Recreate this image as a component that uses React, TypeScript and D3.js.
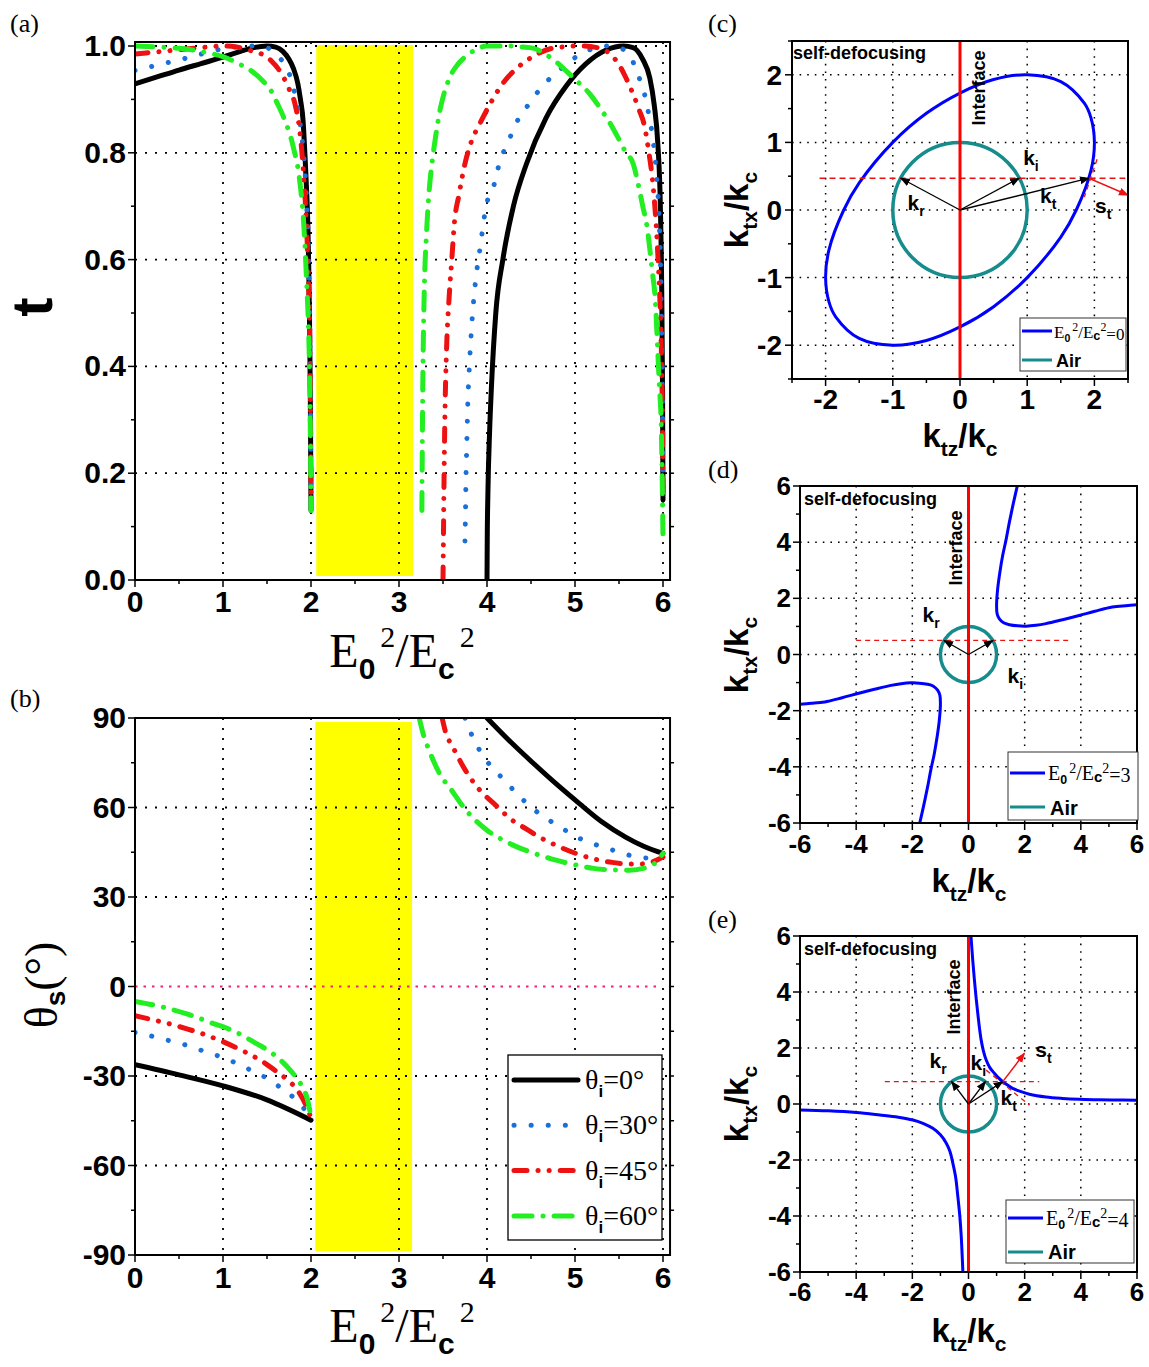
import React from 'react';
import * as d3 from 'd3';

const SANS = "'Liberation Sans', Arial, Helvetica, sans-serif";
const SERIF = "'Liberation Serif', 'Times New Roman', serif";

type Pt = [number, number];
const zip = (xs: number[], ys: number[]): Pt[] => xs.map((x, i) => [x, ys[i]] as Pt);

// ---------- Panel (a): t vs E0^2/Ec^2 ----------
const aBlack1X = [0, 0.25, 0.5, 0.75, 1, 1.2, 1.35, 1.5, 1.6, 1.68, 1.75, 1.8, 1.85, 1.88, 1.91, 1.93, 1.95, 1.965, 1.975, 1.985, 1.992, 1.997, 2.0];
const aBlack1Y = [0.929, 0.942, 0.955, 0.967, 0.979, 0.99, 0.997, 1.0, 0.998, 0.99, 0.975, 0.958, 0.93, 0.9, 0.86, 0.8, 0.73, 0.66, 0.58, 0.46, 0.35, 0.22, 0.13];
const aBlue1X = [0, 0.2, 0.4, 0.6, 0.8, 1.0, 1.2, 1.4, 1.5, 1.6, 1.7, 1.77, 1.83, 1.88, 1.92, 1.95, 1.97, 1.985, 1.993, 2.0];
const aBlue1Y = [0.954, 0.962, 0.97, 0.978, 0.987, 0.995, 0.999, 1.0, 0.997, 0.985, 0.965, 0.94, 0.9, 0.85, 0.79, 0.71, 0.62, 0.5, 0.35, 0.17];
const aRed1X = [0, 0.25, 0.5, 0.75, 1.0, 1.15, 1.3, 1.45, 1.55, 1.65, 1.75, 1.82, 1.88, 1.92, 1.95, 1.97, 1.985, 1.993, 2.0];
const aRed1Y = [0.985, 0.989, 0.993, 0.997, 1.0, 0.998, 0.992, 0.984, 0.972, 0.952, 0.92, 0.89, 0.83, 0.75, 0.66, 0.57, 0.46, 0.33, 0.16];
const aGreen1X = [0, 0.3, 0.6, 0.8, 1.0, 1.2, 1.35, 1.45, 1.55, 1.61, 1.7, 1.8, 1.87, 1.92, 1.95, 1.97, 1.985, 1.993, 2.0];
const aGreen1Y = [1.0, 0.998, 0.994, 0.988, 0.98, 0.965, 0.95, 0.935, 0.915, 0.895, 0.862, 0.81, 0.75, 0.66, 0.56, 0.48, 0.38, 0.27, 0.13];

const aBlack2X = [4.0, 4.003, 4.01, 4.03, 4.05, 4.1, 4.18, 4.3, 4.45, 4.67, 4.9, 5.12, 5.36, 5.55, 5.66, 5.77, 5.85, 5.9, 5.94, 5.97, 5.985, 5.995, 6.0];
const aBlack2Y = [0.0, 0.08, 0.16, 0.28, 0.36, 0.5, 0.6, 0.7, 0.78, 0.865, 0.925, 0.966, 0.993, 1.0, 0.997, 0.975, 0.94, 0.89, 0.82, 0.7, 0.55, 0.35, 0.15];
const aBlue2X = [3.75, 3.755, 3.76, 3.77, 3.78, 3.8, 3.82, 3.87, 3.92, 3.99, 4.08, 4.14, 4.24, 4.33, 4.47, 4.66, 4.83, 4.98, 5.17, 5.36, 5.47, 5.58, 5.66, 5.73, 5.79, 5.84, 5.89, 5.93, 5.96, 5.98, 5.993, 6.0];
const aBlue2Y = [0.073, 0.12, 0.18, 0.25, 0.32, 0.4, 0.46, 0.56, 0.62, 0.7, 0.74, 0.78, 0.82, 0.855, 0.89, 0.93, 0.956, 0.976, 0.993, 1.0, 0.998, 0.99, 0.97, 0.94, 0.91, 0.87, 0.82, 0.75, 0.66, 0.52, 0.35, 0.17];
const aRed2X = [3.5, 3.505, 3.51, 3.52, 3.54, 3.57, 3.6, 3.63, 3.68, 3.75, 3.82, 3.92, 4.03, 4.18, 4.35, 4.52, 4.75, 5.05, 5.28, 5.4, 5.5, 5.58, 5.66, 5.73, 5.79, 5.84, 5.88, 5.92, 5.95, 5.97, 5.985, 5.995, 6.0];
const aRed2Y = [0.0, 0.08, 0.16, 0.29, 0.43, 0.53, 0.6, 0.67, 0.72, 0.78, 0.82, 0.855, 0.89, 0.93, 0.96, 0.98, 0.996, 1.0, 0.996, 0.985, 0.965, 0.94, 0.91, 0.88, 0.85, 0.8, 0.75, 0.67, 0.58, 0.5, 0.4, 0.28, 0.16];
const aGreen2X = [3.26, 3.265, 3.27, 3.275, 3.29, 3.31, 3.33, 3.36, 3.39, 3.43, 3.46, 3.51, 3.55, 3.61, 3.67, 3.74, 3.8, 3.9, 3.99, 4.12, 4.26, 4.4, 4.52, 4.66, 4.79, 4.92, 5.05, 5.17, 5.28, 5.4, 5.5, 5.58, 5.66, 5.72, 5.77, 5.82, 5.85, 5.88, 5.91, 5.94, 5.96, 5.98, 5.99, 6.0];
const aGreen2Y = [0.13, 0.25, 0.36, 0.43, 0.56, 0.64, 0.7, 0.76, 0.8, 0.845, 0.875, 0.91, 0.93, 0.952, 0.966, 0.978, 0.986, 0.995, 1.0, 1.0, 1.0, 0.998, 0.996, 0.985, 0.97, 0.95, 0.93, 0.91, 0.885, 0.855, 0.825, 0.8, 0.78, 0.74, 0.7, 0.66, 0.62, 0.575, 0.53, 0.43, 0.36, 0.29, 0.2, 0.077];

// ---------- Panel (b): theta_s vs E0^2/Ec^2 ----------
const bBlack1X = [0, 0.5, 1.0, 1.5, 2.0];
const bBlack1Y = [-26.2, -29.6, -33.3, -38, -44.8];
const bBlue1X = [0, 0.2, 0.42, 0.62, 0.82, 1.01, 1.2, 1.38, 1.52, 1.68, 1.85, 2.0];
const bBlue1Y = [-15.4, -16.7, -18.4, -20, -22.1, -23.9, -26.4, -29, -31.1, -34.5, -38.5, -44.1];
const bRed1X = [0, 0.18, 0.39, 0.59, 0.79, 1.0, 1.24, 1.44, 1.6, 1.72, 1.85, 1.95, 1.99];
const bRed1Y = [-9.8, -11, -12.5, -14.2, -16.1, -18.5, -21.8, -25, -28.3, -31, -34.9, -40.3, -43.3];
const bGreen1X = [0, 0.3, 0.59, 0.87, 1.14, 1.36, 1.56, 1.77, 1.89, 1.97, 2.0];
const bGreen1Y = [-5, -6.8, -9.2, -12.2, -15.2, -18.8, -22.4, -28.3, -33.1, -39.1, -44.1];

const bBlack2X = [4.0, 4.24, 4.52, 4.81, 5.05, 5.3, 5.58, 5.78, 6.0];
const bBlack2Y = [90, 82.8, 75, 67.3, 61.3, 55.3, 50, 47, 44.6];
const bBlue2X = [3.75, 3.85, 3.98, 4.14, 4.28, 4.42, 4.56, 4.74, 4.91, 5.07, 5.23, 5.42, 5.62, 5.82, 6.0];
const bBlue2Y = [90, 82.8, 76.3, 70.9, 66.5, 62.3, 58.7, 55.1, 52, 49.4, 47.6, 45.8, 44, 43.1, 44.3];
const bRed2X = [3.49, 3.53, 3.61, 3.75, 3.91, 4.08, 4.28, 4.44, 4.6, 4.81, 5.01, 5.21, 5.42, 5.7, 5.86, 6.0];
const bRed2Y = [90, 85.2, 80.4, 72.7, 66.1, 61.3, 55.9, 52.9, 50, 47, 44.6, 42.8, 41.6, 41, 41.6, 43.4];
const bGreen2X = [3.23, 3.27, 3.35, 3.47, 3.59, 3.75, 4.0, 4.24, 4.48, 4.73, 4.97, 5.21, 5.42, 5.62, 5.86, 6.0];
const bGreen2Y = [90, 85.2, 78.6, 70.9, 66.1, 59.5, 52.4, 48.2, 45.2, 42.8, 41, 39.6, 39.1, 39, 40.4, 44.6];

const legendLabels = ['0°', '30°', '45°', '60°'];
const bandRange = [2.06, 3.16];

// ---------- Panel (c): ellipse, E0^2/Ec^2 = 0 ----------
const cEllX = [2.0, 1.95, 1.85, 1.5, 1.0, 0.5, 0, -0.5, -1, -1.5, -1.73, -1.95, -2.0, -1.95, -1.85, -1.5, -1.0, -0.5, 0, 0.5, 1.0, 1.5, 1.73, 1.95];
const cEllY = [1.0, 1.36, 1.58, 1.9, 2.0, 1.93, 1.73, 1.43, 1.0, 0.4, 0, -0.59, -1.0, -1.36, -1.58, -1.9, -2.0, -1.93, -1.73, -1.43, -1.0, -0.4, 0, 0.59];

// ---------- Panel (d): E0^2/Ec^2 = 3 ----------
const dUpperX = [1.75, 1.6, 1.46, 1.34, 1.22, 1.12, 1.04, 1.0, 1.02, 1.1, 1.25, 1.46, 1.75, 2.05, 2.4, 2.76, 3.35, 3.94, 4.5, 5.12, 5.6, 6.0];
const dUpperY = [6.06, 5.4, 4.73, 4.1, 3.54, 2.95, 2.35, 1.75, 1.45, 1.27, 1.13, 1.06, 1.02, 1.01, 1.04, 1.1, 1.24, 1.39, 1.54, 1.69, 1.74, 1.77];
const dLowerX = [-1.75, -1.6, -1.46, -1.34, -1.22, -1.12, -1.04, -1.0, -1.02, -1.1, -1.25, -1.46, -1.75, -2.05, -2.4, -2.76, -3.35, -3.94, -4.5, -5.12, -5.6, -6.0];
const dLowerY = [-6.06, -5.4, -4.73, -4.1, -3.54, -2.95, -2.35, -1.75, -1.45, -1.27, -1.13, -1.06, -1.02, -1.01, -1.04, -1.1, -1.24, -1.39, -1.54, -1.69, -1.74, -1.77];

// ---------- Panel (e): E0^2/Ec^2 = 4 ----------
const eUpperX = [0.09, 0.15, 0.21, 0.27, 0.33, 0.39, 0.45, 0.53, 0.63, 0.76, 0.92, 1.06, 1.22, 1.4, 1.57, 1.85, 2.17, 2.76, 3.35, 3.94, 4.5, 5.12, 6.0];
const eUpperY = [5.98, 5.15, 4.43, 3.8, 3.24, 2.72, 2.29, 1.9, 1.57, 1.3, 1.1, 0.94, 0.8, 0.67, 0.56, 0.45, 0.35, 0.25, 0.2, 0.17, 0.155, 0.145, 0.135];
const eLowerX = [-6, -5, -4, -3.16, -2.5, -1.98, -1.6, -1.27, -1.0, -0.79, -0.66, -0.56, -0.46, -0.38, -0.31, -0.26, -0.2];
const eLowerY = [-0.21, -0.24, -0.3, -0.39, -0.47, -0.57, -0.7, -0.87, -1.1, -1.4, -1.7, -2.1, -2.6, -3.3, -4.0, -4.7, -6.0];

const COL = { black: '#000000', blue: '#1a6fd8', red: '#ee1111', green: '#22ee22', yellow: '#ffff00', pink: '#f0207f', teal: '#168c8c', conic: '#0000ff', iface: '#ff0000' };

const styles = [
  { c: COL.black, dash: undefined as string | undefined },
  { c: COL.blue, dash: '0.1 17' },
  { c: COL.red, dash: '13 11 0.1 11 0.1 11' },
  { c: COL.green, dash: '18 11 0.1 11' },
];

function Grid({ xs, ys, x, y, x0, x1, y0, y1, dash = '2 8', w = 1.8 }: any) {
  return (
    <g stroke="#000" strokeWidth={w} strokeDasharray={dash} strokeLinecap="butt" fill="none">
      {xs.map((v: number) => <line key={'gx' + v} x1={x(v)} x2={x(v)} y1={y0} y2={y1} />)}
      {ys.map((v: number) => <line key={'gy' + v} x1={x0} x2={x1} y1={y(v)} y2={y(v)} />)}
    </g>
  );
}

function Ticks({ side, vals, scale, at, len }: any) {
  return (
    <g stroke="#000" strokeWidth={1.5}>
      {vals.map((v: number) => {
        const p = scale(v);
        if (side === 'left') return <line key={v} x1={at} x2={at - len} y1={p} y2={p} />;
        if (side === 'right') return <line key={v} x1={at} x2={at + len} y1={p} y2={p} />;
        if (side === 'bottom') return <line key={v} y1={at} y2={at + len} x1={p} x2={p} />;
        return <line key={v} y1={at} y2={at - len} x1={p} x2={p} />;
      })}
    </g>
  );
}

export default function App() {
  // scales (a,b)
  const xA = d3.scaleLinear().domain([0, 6]).range([135, 663]);
  const yA = d3.scaleLinear().domain([0, 1]).range([580, 46]);
  const yB = d3.scaleLinear().domain([-90, 90]).range([1255, 718]);
  const aL = 135, aR = xA(6.08), aT = yA(1.0075), aB = 580;
  const bT = 718, bB = 1255;

  const lineA = d3.line<Pt>().x(d => xA(d[0])).y(d => yA(d[1])).curve(d3.curveMonotoneX);
  const lineB = d3.line<Pt>().x(d => xA(d[0])).y(d => yB(d[1])).curve(d3.curveMonotoneX);

  const aSeries = [
    [zip(aBlack1X, aBlack1Y), zip(aBlack2X, aBlack2Y)],
    [zip(aBlue1X, aBlue1Y), zip(aBlue2X, aBlue2Y)],
    [zip(aRed1X, aRed1Y), zip(aRed2X, aRed2Y)],
    [zip(aGreen1X, aGreen1Y), zip(aGreen2X, aGreen2Y)],
  ];
  const bSeries = [
    [zip(bBlack1X, bBlack1Y), zip(bBlack2X, bBlack2Y)],
    [zip(bBlue1X, bBlue1Y), zip(bBlue2X, bBlue2Y)],
    [zip(bRed1X, bRed1Y), zip(bRed2X, bRed2Y)],
    [zip(bGreen1X, bGreen1Y), zip(bGreen2X, bGreen2Y)],
  ];

  // scales (c,d,e)
  const xC = d3.scaleLinear().domain([-2.5, 2.5]).range([792, 1128]);
  const yC = d3.scaleLinear().domain([-2.5, 2.5]).range([379, 41]);
  const xD = d3.scaleLinear().domain([-6, 6]).range([800, 1137]);
  const yD = d3.scaleLinear().domain([-6, 6]).range([823, 486]);
  const xE = xD;
  const yE = d3.scaleLinear().domain([-6, 6]).range([1272, 936]);

  const mk = (x: any, y: any, closed = false) =>
    d3.line<Pt>().x(d => x(d[0])).y(d => y(d[1])).curve(closed ? d3.curveCatmullRomClosed.alpha(0.5) : d3.curveCatmullRom.alpha(0.5));

  const titleE = (cx: number, by: number) => (
    <text x={cx} y={by} textAnchor="middle" fontFamily={SERIF} fontSize={48}>
      E<tspan fontFamily={SANS} fontWeight="bold" fontSize={30} dy={12}>0</tspan>
      <tspan fontSize={30} dy={-32} dx={5}>2</tspan>
      <tspan fontSize={48} dy={20}>/E</tspan>
      <tspan fontFamily={SANS} fontWeight="bold" fontSize={30} dy={12}>c</tspan>
      <tspan fontSize={30} dy={-32} dx={5}>2</tspan>
    </text>
  );

  const kTitleX = (cx: number, by: number) => (
    <text x={cx} y={by} textAnchor="middle" fontFamily={SANS} fontWeight="bold" fontSize={33}>
      k<tspan fontSize={21} dy={9}>tz</tspan><tspan dy={-9}>/k</tspan><tspan fontSize={21} dy={9}>c</tspan>
    </text>
  );
  const kTitleY = (bx: number, cy: number) => (
    <text transform={`translate(${bx},${cy}) rotate(-90)`} textAnchor="middle" fontFamily={SANS} fontWeight="bold" fontSize={33}>
      k<tspan fontSize={21} dy={9}>tx</tspan><tspan dy={-9}>/k</tspan><tspan fontSize={21} dy={9}>c</tspan>
    </text>
  );

  const kLabel = (x: number, y: number, sub: string) => (
    <text x={x} y={y} fontFamily={SANS} fontWeight="bold" fontSize={21}>
      k<tspan fontSize={14} dy={6}>{sub}</tspan>
    </text>
  );
  const sLabel = (x: number, y: number) => (
    <text x={x} y={y} fontFamily={SANS} fontWeight="bold" fontSize={21}>
      s<tspan fontSize={14} dy={6}>t</tspan>
    </text>
  );

  const legendE = (x: number, by: number, val: string, fs: number) => (
    <text x={x} y={by} fontFamily={SERIF} fontSize={fs}>
      E<tspan fontFamily={SANS} fontWeight="bold" fontSize={fs * 0.62} dy={4}>0</tspan>
      <tspan fontSize={fs * 0.7} dy={-11} dx={2}>2</tspan>
      <tspan dy={7}>/E</tspan>
      <tspan fontFamily={SANS} fontWeight="bold" fontSize={fs * 0.75} dy={2}>c</tspan>
      <tspan fontSize={fs * 0.7} dy={-9}>2</tspan>
      <tspan dy={9}>={val}</tspan>
    </text>
  );

  // panel (c) geometry in data coordinates
  const cDashY = 0.47;
  const cArrows: [Pt, Pt][] = [[[0, 0], [0.88, 0.47]], [[0, 0], [-0.88, 0.47]], [[0, 0], [1.92, 0.47]]];
  const cSt: [Pt, Pt] = [[1.92, 0.47], [2.5, 0.22]];
  const cTan: [Pt, Pt] = [[2.04, 0.75], [1.85, 0.19]];
  const dArrows: [Pt, Pt][] = [[[0, 0], [0.87, 0.5]], [[0, 0], [-0.87, 0.5]]];
  const eArrows: [Pt, Pt][] = [[[0, 0], [0.6, 0.8]], [[0, 0], [-0.6, 0.8]], [[0, 0], [1.22, 0.8]]];
  const eSt: [Pt, Pt] = [[1.22, 0.8], [1.99, 1.81]];
  const eTan: [Pt, Pt] = [[0.63, 1.21], [2.17, -0.04]];

  const circle = (x: any, y: any) => (
    <ellipse cx={x(0)} cy={y(0)} rx={x(1) - x(0)} ry={y(0) - y(1)} fill="none" stroke={COL.teal} strokeWidth={3.5} />
  );

  const conicFrame = (x: any, y: any, L: number, R: number, T: number, B: number, gridV: number[], major: number[], minor: number[], id: string, children: any) => (
    <g>
      <clipPath id={id}><rect x={L} y={T} width={R - L} height={B - T} /></clipPath>
      <Grid xs={gridV} ys={gridV} x={x} y={y} x0={L} x1={R} y0={T} y1={B} dash="1.6 6" w={1.5} />
      <g clipPath={`url(#${id})`}>{children}</g>
      <rect x={L} y={T} width={R - L} height={B - T} fill="none" stroke="#000" strokeWidth={2} />
      <Ticks side="left" vals={major} scale={y} at={L} len={7} />
      <Ticks side="left" vals={minor} scale={y} at={L} len={4} />
      <Ticks side="bottom" vals={major} scale={x} at={B} len={7} />
      <Ticks side="bottom" vals={minor} scale={x} at={B} len={4} />
    </g>
  );

  const arrowLines = (x: any, y: any, arr: [Pt, Pt][], color: string, marker: string, w = 1.3) =>
    arr.map((a, i) => (
      <line key={marker + i} x1={x(a[0][0])} y1={y(a[0][1])} x2={x(a[1][0])} y2={y(a[1][1])} stroke={color} strokeWidth={w} markerEnd={`url(#${marker})`} />
    ));

  return (
    <svg width={1149} height={1367} style={{ position: 'absolute', left: 0, top: 0, background: '#fff' }}>
      <defs>
        <marker id="ahk" viewBox="0 0 10 10" refX="9" refY="5" markerWidth="10" markerHeight="10" markerUnits="userSpaceOnUse" orient="auto">
          <path d="M0,1 L10,5 L0,9 z" fill="#000" />
        </marker>
        <marker id="ahr" viewBox="0 0 10 10" refX="9" refY="5" markerWidth="10" markerHeight="10" markerUnits="userSpaceOnUse" orient="auto">
          <path d="M0,1 L10,5 L0,9 z" fill={COL.red} />
        </marker>
        <clipPath id="clipA"><rect x={aL} y={aT} width={aR - aL} height={aB - aT} /></clipPath>
        <clipPath id="clipB"><rect x={aL} y={bT} width={aR - aL} height={bB - bT} /></clipPath>
      </defs>
      <rect x={0} y={0} width={1149} height={1367} fill="#fff" />

      {/* ===== Panel (a) ===== */}
      <text x={10} y={32} fontFamily={SERIF} fontSize={26}>(a)</text>
      <rect x={xA(bandRange[0])} y={aT + 3} width={xA(bandRange[1]) - xA(bandRange[0])} height={aB - aT - 7} fill={COL.yellow} />
      <Grid xs={[1, 2, 3, 4, 5, 6]} ys={[0.2, 0.4, 0.6, 0.8, 1.0]} x={xA} y={yA} x0={aL} x1={aR} y0={aT} y1={aB} />
      <g clipPath="url(#clipA)" fill="none">
        {aSeries.map((branches, i) => branches.map((b, j) => (
          <path key={`a${i}${j}`} d={lineA(b) || ''} stroke={styles[i].c} strokeWidth={5} strokeDasharray={styles[i].dash} strokeLinecap="round" strokeLinejoin="round" />
        )))}
      </g>
      <rect x={aL} y={aT} width={aR - aL} height={aB - aT} fill="none" stroke="#000" strokeWidth={2} />
      <Ticks side="left" vals={[0, 0.2, 0.4, 0.6, 0.8, 1.0]} scale={yA} at={aL} len={7} />
      <Ticks side="left" vals={[0.1, 0.3, 0.5, 0.7, 0.9]} scale={yA} at={aL} len={4} />
      <Ticks side="right" vals={[0.1, 0.2, 0.3, 0.4, 0.5, 0.6, 0.7, 0.8, 0.9]} scale={yA} at={aR} len={4} />
      <Ticks side="bottom" vals={[0, 1, 2, 3, 4, 5, 6]} scale={xA} at={aB} len={7} />
      <Ticks side="bottom" vals={[0.5, 1.5, 2.5, 3.5, 4.5, 5.5]} scale={xA} at={aB} len={4} />
      {[0, 0.2, 0.4, 0.6, 0.8, 1.0].map(v => (
        <text key={'ay' + v} x={126} y={yA(v) + 10} textAnchor="end" fontFamily={SANS} fontWeight="bold" fontSize={30}>{v.toFixed(1)}</text>
      ))}
      {[0, 1, 2, 3, 4, 5, 6].map(v => (
        <text key={'ax' + v} x={xA(v)} y={612} textAnchor="middle" fontFamily={SANS} fontWeight="bold" fontSize={30}>{v}</text>
      ))}
      <text transform="translate(52,307) rotate(-90)" textAnchor="middle" fontFamily={SANS} fontWeight="bold" fontSize={58}>t</text>
      {titleE(402, 667)}

      {/* ===== Panel (b) ===== */}
      <text x={10} y={707} fontFamily={SERIF} fontSize={26}>(b)</text>
      <rect x={xA(bandRange[0]) - 1} y={bT + 4} width={xA(bandRange[1]) - xA(bandRange[0])} height={bB - bT - 8} fill={COL.yellow} />
      <Grid xs={[1, 2, 3, 4, 5, 6]} ys={[-60, -30, 30, 60]} x={xA} y={yB} x0={aL} x1={aR} y0={bT} y1={bB} />
      <line x1={xA(0)} x2={xA(5.98)} y1={yB(0)} y2={yB(0)} stroke={COL.pink} strokeWidth={2} strokeDasharray="2.5 6" />
      <g clipPath="url(#clipB)" fill="none">
        {bSeries.map((branches, i) => branches.map((b, j) => (
          <path key={`b${i}${j}`} d={lineB(b) || ''} stroke={styles[i].c} strokeWidth={5} strokeDasharray={styles[i].dash} strokeLinecap="round" strokeLinejoin="round" />
        )))}
      </g>
      <rect x={aL} y={bT} width={aR - aL} height={bB - bT} fill="none" stroke="#000" strokeWidth={2} />
      <Ticks side="left" vals={[-90, -60, -30, 0, 30, 60, 90]} scale={yB} at={aL} len={7} />
      <Ticks side="left" vals={[-75, -45, -15, 15, 45, 75]} scale={yB} at={aL} len={4} />
      <Ticks side="right" vals={[-75, -60, -45, -30, -15, 0, 15, 30, 45, 60, 75]} scale={yB} at={aR} len={4} />
      <Ticks side="bottom" vals={[0, 1, 2, 3, 4, 5, 6]} scale={xA} at={bB} len={7} />
      <Ticks side="bottom" vals={[0.5, 1.5, 2.5, 3.5, 4.5, 5.5]} scale={xA} at={bB} len={4} />
      {[-90, -60, -30, 0, 30, 60, 90].map(v => (
        <text key={'by' + v} x={126} y={yB(v) + 10} textAnchor="end" fontFamily={SANS} fontWeight="bold" fontSize={30}>{v}</text>
      ))}
      {[0, 1, 2, 3, 4, 5, 6].map(v => (
        <text key={'bx' + v} x={xA(v)} y={1288} textAnchor="middle" fontFamily={SANS} fontWeight="bold" fontSize={30}>{v}</text>
      ))}
      <text transform="translate(57,985) rotate(-90)" textAnchor="middle" fontFamily={SERIF} fontSize={46}>
        θ<tspan fontFamily={SANS} fontWeight="bold" fontSize={28} dy={8}>s</tspan><tspan dy={-8}>(°)</tspan>
      </text>
      {titleE(402, 1342)}
      {/* legend (b) */}
      <rect x={508} y={1055} width={154} height={185} fill="#fff" stroke="#000" strokeWidth={1.3} />
      {legendLabels.map((lab, i) => {
        const yy = 1080 + i * 45.3;
        return (
          <g key={'lg' + i}>
            <line x1={514} x2={578} y1={yy} y2={yy} stroke={styles[i].c} strokeWidth={5} strokeDasharray={styles[i].dash} strokeLinecap="round" />
            <text x={585} y={yy + 9} fontFamily={SERIF} fontSize={28}>
              θ<tspan fontFamily={SANS} fontWeight="bold" fontSize={17} dy={8}>i</tspan><tspan dy={-8}>={lab}</tspan>
            </text>
          </g>
        );
      })}

      {/* ===== Panel (c) ===== */}
      <text x={708} y={32} fontFamily={SERIF} fontSize={26}>(c)</text>
      {conicFrame(xC, yC, 792, 1128, 41, 379, [-2, -1, 0, 1, 2], [-2, -1, 0, 1, 2], [-2.5, -1.5, -0.5, 0.5, 1.5, 2.5], 'clipC', (
        <g fill="none">
          <path d={mk(xC, yC, true)(zip(cEllX, cEllY)) || ''} stroke={COL.conic} strokeWidth={3} />
          {circle(xC, yC)}
          <line x1={xC(-2.09)} x2={xC(2.46)} y1={yC(cDashY)} y2={yC(cDashY)} stroke={COL.red} strokeWidth={1.3} strokeDasharray="6 4" />
          <line x1={xC(cTan[0][0])} y1={yC(cTan[0][1])} x2={xC(cTan[1][0])} y2={yC(cTan[1][1])} stroke={COL.red} strokeWidth={1.3} strokeDasharray="5 4" />
          <line x1={xC(0)} x2={xC(0)} y1={41} y2={379} stroke={COL.iface} strokeWidth={3} />
          {arrowLines(xC, yC, cArrows, '#000', 'ahk')}
          {arrowLines(xC, yC, [cSt], COL.red, 'ahr', 1.5)}
        </g>
      ))}
      <text x={793} y={59} fontFamily={SANS} fontWeight="bold" fontSize={18}>self-defocusing</text>
      <text transform="translate(985,88) rotate(-90)" textAnchor="middle" fontFamily={SANS} fontWeight="bold" fontSize={18}>Interface</text>
      {kLabel(xC(0.94), yC(0.67), 'i')}
      {kLabel(xC(-0.78), yC(0.0), 'r')}
      {kLabel(xC(1.19), yC(0.1), 't')}
      {sLabel(xC(2.01), yC(-0.05))}
      {[-2, -1, 0, 1, 2].map(v => (
        <text key={'cy' + v} x={782} y={yC(v) + 10} textAnchor="end" fontFamily={SANS} fontWeight="bold" fontSize={28}>{v}</text>
      ))}
      {[-2, -1, 0, 1, 2].map(v => (
        <text key={'cx' + v} x={xC(v)} y={409} textAnchor="middle" fontFamily={SANS} fontWeight="bold" fontSize={28}>{v}</text>
      ))}
      {kTitleX(960, 447)}
      {kTitleY(748, 210)}
      <rect x={1020} y={318} width={106} height={53} fill="#fff" stroke="#333" strokeWidth={1} />
      <line x1={1022} x2={1052} y1={331} y2={331} stroke={COL.conic} strokeWidth={3} />
      <line x1={1022} x2={1052} y1={360} y2={360} stroke={COL.teal} strokeWidth={3} />
      {legendE(1054, 338, '0', 17)}
      <text x={1056} y={367} fontFamily={SANS} fontWeight="bold" fontSize={18}>Air</text>

      {/* ===== Panel (d) ===== */}
      <text x={708} y={478} fontFamily={SERIF} fontSize={26}>(d)</text>
      {conicFrame(xD, yD, 800, 1137, 486, 823, [-4, -2, 0, 2, 4], [-6, -4, -2, 0, 2, 4, 6], [-5, -3, -1, 1, 3, 5], 'clipD', (
        <g fill="none">
          <path d={mk(xD, yD)(zip(dUpperX, dUpperY)) || ''} stroke={COL.conic} strokeWidth={3} />
          <path d={mk(xD, yD)(zip(dLowerX, dLowerY)) || ''} stroke={COL.conic} strokeWidth={3} />
          {circle(xD, yD)}
          <line x1={xD(-4)} x2={xD(3.65)} y1={yD(0.5)} y2={yD(0.5)} stroke={COL.red} strokeWidth={1.3} strokeDasharray="5 4" />
          <line x1={xD(0)} x2={xD(0)} y1={486} y2={823} stroke={COL.iface} strokeWidth={3} />
          {arrowLines(xD, yD, dArrows, '#000', 'ahk')}
        </g>
      ))}
      <text x={804} y={505} fontFamily={SANS} fontWeight="bold" fontSize={18}>self-defocusing</text>
      <text transform="translate(962,548) rotate(-90)" textAnchor="middle" fontFamily={SANS} fontWeight="bold" fontSize={18}>Interface</text>
      {kLabel(xD(-1.64), yD(1.14), 'r')}
      {kLabel(xD(1.39), yD(-1.0), 'i')}
      {[-6, -4, -2, 0, 2, 4, 6].map(v => (
        <text key={'dy' + v} x={791} y={yD(v) + 9} textAnchor="end" fontFamily={SANS} fontWeight="bold" fontSize={26}>{v}</text>
      ))}
      {[-6, -4, -2, 0, 2, 4, 6].map(v => (
        <text key={'dx' + v} x={xD(v)} y={853} textAnchor="middle" fontFamily={SANS} fontWeight="bold" fontSize={26}>{v}</text>
      ))}
      {kTitleX(969, 892)}
      {kTitleY(748, 655)}
      <rect x={1008} y={752} width={130} height={68} fill="#fff" stroke="#333" strokeWidth={1} />
      <line x1={1010} x2={1045} y1={773} y2={773} stroke={COL.conic} strokeWidth={3} />
      <line x1={1010} x2={1045} y1={807} y2={807} stroke={COL.teal} strokeWidth={3} />
      {legendE(1048, 780, '3', 20)}
      <text x={1050} y={815} fontFamily={SANS} fontWeight="bold" fontSize={20}>Air</text>

      {/* ===== Panel (e) ===== */}
      <text x={708} y={928} fontFamily={SERIF} fontSize={26}>(e)</text>
      {conicFrame(xE, yE, 800, 1137, 936, 1272, [-4, -2, 0, 2, 4], [-6, -4, -2, 0, 2, 4, 6], [-5, -3, -1, 1, 3, 5], 'clipE', (
        <g fill="none">
          <path d={mk(xE, yE)(zip(eUpperX, eUpperY)) || ''} stroke={COL.conic} strokeWidth={3} />
          <path d={mk(xE, yE)(zip(eLowerX, eLowerY)) || ''} stroke={COL.conic} strokeWidth={3} />
          {circle(xE, yE)}
          <line x1={xE(-2.98)} x2={xE(2.52)} y1={yE(0.8)} y2={yE(0.8)} stroke={COL.red} strokeWidth={1.3} strokeDasharray="5 4" />
          <line x1={xE(eTan[0][0])} y1={yE(eTan[0][1])} x2={xE(eTan[1][0])} y2={yE(eTan[1][1])} stroke={COL.red} strokeWidth={1.3} strokeDasharray="5 4" />
          <line x1={xE(0)} x2={xE(0)} y1={936} y2={1272} stroke={COL.iface} strokeWidth={3} />
          {arrowLines(xE, yE, eArrows, '#000', 'ahk')}
          {arrowLines(xE, yE, [eSt], COL.red, 'ahr', 1.5)}
        </g>
      ))}
      <text x={804} y={955} fontFamily={SANS} fontWeight="bold" fontSize={18}>self-defocusing</text>
      <text transform="translate(960,997) rotate(-90)" textAnchor="middle" fontFamily={SANS} fontWeight="bold" fontSize={18}>Interface</text>
      {kLabel(xE(-1.39), yE(1.28), 'r')}
      {kLabel(xE(0.07), yE(1.21), 'i')}
      {kLabel(xE(1.14), yE(-0.04), 't')}
      {sLabel(xE(2.38), yE(1.68))}
      {[-6, -4, -2, 0, 2, 4, 6].map(v => (
        <text key={'ey' + v} x={791} y={yE(v) + 9} textAnchor="end" fontFamily={SANS} fontWeight="bold" fontSize={26}>{v}</text>
      ))}
      {[-6, -4, -2, 0, 2, 4, 6].map(v => (
        <text key={'ex' + v} x={xE(v)} y={1301} textAnchor="middle" fontFamily={SANS} fontWeight="bold" fontSize={26}>{v}</text>
      ))}
      {kTitleX(969, 1342)}
      {kTitleY(748, 1104)}
      <rect x={1006} y={1200} width={128} height={63} fill="#fff" stroke="#333" strokeWidth={1} />
      <line x1={1008} x2={1043} y1={1218} y2={1218} stroke={COL.conic} strokeWidth={3} />
      <line x1={1008} x2={1043} y1={1252} y2={1252} stroke={COL.teal} strokeWidth={3} />
      {legendE(1046, 1225, '4', 20)}
      <text x={1048} y={1259} fontFamily={SANS} fontWeight="bold" fontSize={20}>Air</text>
    </svg>
  );
}
